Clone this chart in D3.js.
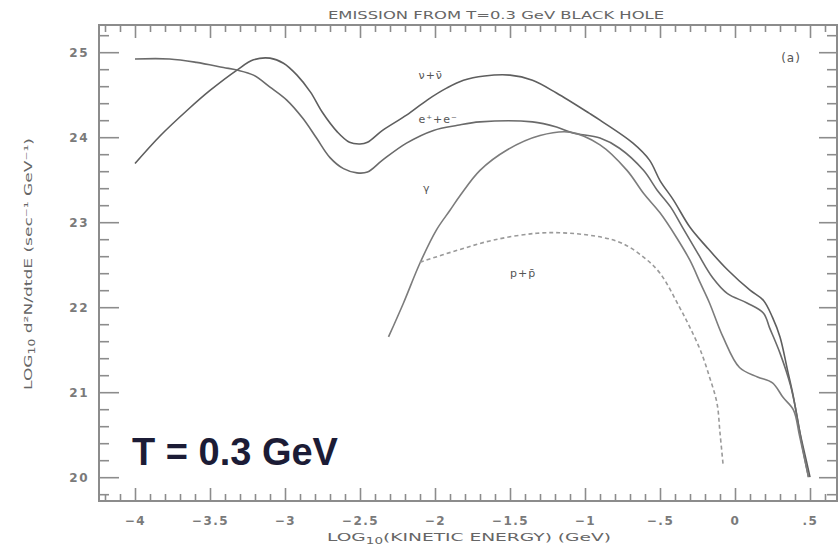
<!DOCTYPE html>
<html>
<head>
<meta charset="utf-8">
<script src="https://cdn.jsdelivr.net/npm/d3@7"></script>
<style>
  body { margin: 0; background: #fff; }
  svg { display: block; }
</style>
</head>
<body>
<svg id="chart" width="838" height="547"></svg>
<script>
// Axis ticks and labels
const energyTicks = [-4, -3.5, -3, -2.5, -2, -1.5, -1, -0.5, 0, 0.5];
const energyTickLabels = ["\u22124", "\u22123.5", "\u22123", "\u22122.5", "\u22122", "\u22121.5", "\u22121", "\u2212.5", "0", ".5"];
const rateTicks = [20, 21, 22, 23, 24, 25];
const rateTickLabels = ["20", "21", "22", "23", "24", "25"];

// Emission spectra: [log10 kinetic energy (GeV), log10 d2N/dtdE]
const neutrinoSpectrum = [
  [-4.00, 23.69], [-3.83, 24.02], [-3.65, 24.32], [-3.50, 24.55], [-3.32, 24.79],
  [-3.21, 24.91], [-3.10, 24.93], [-3.01, 24.87], [-2.92, 24.73], [-2.83, 24.53],
  [-2.75, 24.29], [-2.65, 24.06], [-2.57, 23.94], [-2.50, 23.92], [-2.45, 23.94],
  [-2.35, 24.08], [-2.19, 24.26], [-2.05, 24.44], [-1.92, 24.58], [-1.81, 24.67],
  [-1.67, 24.72], [-1.50, 24.73], [-1.35, 24.67], [-1.19, 24.52], [-0.97, 24.28],
  [-0.90, 24.20], [-0.68, 23.93], [-0.57, 23.73], [-0.50, 23.49], [-0.41, 23.26],
  [-0.30, 22.94], [-0.19, 22.71], [-0.05, 22.44], [0.10, 22.20], [0.19, 22.08],
  [0.25, 21.88], [0.30, 21.65], [0.35, 21.26], [0.39, 20.94], [0.43, 20.55],
  [0.48, 20.16], [0.50, 20.00]
];
const electronSpectrum = [
  [-4.00, 24.92], [-3.77, 24.92], [-3.59, 24.88], [-3.41, 24.82], [-3.32, 24.79],
  [-3.21, 24.73], [-3.10, 24.59], [-2.99, 24.44], [-2.88, 24.22], [-2.79, 23.99],
  [-2.70, 23.76], [-2.61, 23.63], [-2.52, 23.58], [-2.45, 23.59], [-2.35, 23.73],
  [-2.19, 23.93], [-2.01, 24.08], [-1.85, 24.14], [-1.70, 24.18], [-1.35, 24.18],
  [-1.19, 24.12], [-1.08, 24.05], [-0.90, 23.99], [-0.77, 23.87], [-0.61, 23.61],
  [-0.52, 23.38], [-0.43, 23.18], [-0.35, 22.94], [-0.25, 22.64], [-0.15, 22.35],
  [-0.05, 22.16], [0.08, 22.05], [0.19, 21.93], [0.23, 21.76], [0.30, 21.46],
  [0.37, 21.08], [0.41, 20.75], [0.45, 20.35], [0.49, 20.00]
];
const photonSpectrum = [
  [-2.31, 21.65], [-2.21, 22.05], [-2.10, 22.52], [-1.99, 22.91], [-1.90, 23.14],
  [-1.83, 23.32], [-1.70, 23.61], [-1.52, 23.85], [-1.30, 24.02], [-1.10, 24.06],
  [-0.90, 23.91], [-0.72, 23.61], [-0.61, 23.34], [-0.50, 23.11], [-0.39, 22.82],
  [-0.30, 22.55], [-0.23, 22.28], [-0.17, 22.05], [-0.08, 21.65], [0.03, 21.29],
  [0.15, 21.18], [0.25, 21.11], [0.32, 20.94], [0.39, 20.79], [0.43, 20.49],
  [0.49, 20.00]
];
const protonSpectrum = [
  [-2.10, 22.53], [-1.85, 22.67], [-1.61, 22.79], [-1.32, 22.87], [-1.10, 22.87],
  [-0.88, 22.82], [-0.75, 22.75], [-0.61, 22.59], [-0.50, 22.40], [-0.37, 22.00],
  [-0.30, 21.76], [-0.23, 21.49], [-0.17, 21.18], [-0.12, 20.87], [-0.10, 20.52],
  [-0.08, 20.16]
];

// Curve captions: [text, log10 E, log10 rate]
const curveCaptions = [
  ["\u03BD+\u03BD\u0304", -2.11, 24.69],
  ["e\u207A+e\u207B", -2.11, 24.17],
  ["\u03B3", -2.08, 23.35],
  ["p+p\u0304", -1.50, 22.36]
];

const svg = d3.select("#chart");
const frame = { left: 99, right: 837, top: 25, bottom: 501 };

const x = d3.scaleLinear().domain([-4.24, 0.68]).range([frame.left, frame.right]);
const y = d3.scaleLinear().domain([19.72, 25.32]).range([frame.bottom, frame.top]);

const axisColor = "#8c8c8c";
const labelFont = "'DejaVu Sans', sans-serif";

// minor tick positions
const xMinor = d3.range(-4.2, 0.65, 0.1).map(v => +v.toFixed(2)).filter(v => !energyTicks.some(t => Math.abs(t - v) < 1e-6));
const yMinor = d3.range(19.8, 25.3, 0.2).map(v => +v.toFixed(2)).filter(v => !rateTicks.some(t => Math.abs(t - v) < 1e-6));

function styleAxis(g) {
  g.select(".domain").remove();
  g.selectAll(".tick line").attr("stroke", axisColor).attr("stroke-width", 1.6);
  g.selectAll(".tick text")
    .attr("fill", "#7a7a7a")
    .style("font-family", labelFont)
    .style("font-size", "12px")
    .style("font-weight", "bold")
    .style("letter-spacing", "1.5px");
}

// bottom
svg.append("g").attr("transform", `translate(0,${frame.bottom})`)
  .call(d3.axisBottom(x).tickValues(energyTicks).tickSize(-13).tickPadding(15)
    .tickFormat((d, i) => energyTickLabels[i]))
  .call(styleAxis);
svg.append("g").attr("transform", `translate(0,${frame.bottom})`)
  .call(d3.axisBottom(x).tickValues(xMinor).tickSize(-7).tickFormat(""))
  .call(styleAxis);
// top
svg.append("g").attr("transform", `translate(0,${frame.top})`)
  .call(d3.axisTop(x).tickValues(energyTicks).tickSize(-13).tickFormat(""))
  .call(styleAxis);
svg.append("g").attr("transform", `translate(0,${frame.top})`)
  .call(d3.axisTop(x).tickValues(xMinor).tickSize(-7).tickFormat(""))
  .call(styleAxis);
// left
svg.append("g").attr("transform", `translate(${frame.left},0)`)
  .call(d3.axisLeft(y).tickValues(rateTicks).tickSize(-20).tickPadding(10)
    .tickFormat((d, i) => rateTickLabels[i]))
  .call(styleAxis);
svg.append("g").attr("transform", `translate(${frame.left},0)`)
  .call(d3.axisLeft(y).tickValues(yMinor).tickSize(-10).tickFormat(""))
  .call(styleAxis);
// right
svg.append("g").attr("transform", `translate(${frame.right},0)`)
  .call(d3.axisRight(y).tickValues(rateTicks).tickSize(-18).tickFormat(""))
  .call(styleAxis);
svg.append("g").attr("transform", `translate(${frame.right},0)`)
  .call(d3.axisRight(y).tickValues(yMinor).tickSize(-10).tickFormat(""))
  .call(styleAxis);

// plot frame
svg.append("rect")
  .attr("x", frame.left).attr("y", frame.top)
  .attr("width", frame.right - frame.left).attr("height", frame.bottom - frame.top)
  .attr("fill", "none").attr("stroke", axisColor).attr("stroke-width", 2);

// spectra
const line = d3.line().x(d => x(d[0])).y(d => y(d[1])).curve(d3.curveCatmullRom.alpha(0.5));
const curves = svg.append("g").attr("fill", "none");
[
  [neutrinoSpectrum, "#5e5e5e", null],
  [electronSpectrum, "#6a6a6a", null],
  [photonSpectrum, "#7c7c7c", null],
  [protonSpectrum, "#9a9a9a", "4,3"]
].forEach(([data, color, dash]) => {
  curves.append("path")
    .datum(data)
    .attr("d", line)
    .attr("stroke", color)
    .attr("stroke-width", 1.6)
    .attr("stroke-dasharray", dash);
});

// curve captions
svg.append("g").selectAll("text").data(curveCaptions).join("text")
  .attr("x", d => x(d[1])).attr("y", d => y(d[2]))
  .attr("fill", "#555")
  .style("font-family", labelFont)
  .style("font-size", "11px")
  .style("letter-spacing", "1px")
  .text(d => d[0]);

// panel tag
svg.append("text")
  .attr("x", 791).attr("y", 62).attr("text-anchor", "middle")
  .attr("fill", "#555")
  .style("font-family", labelFont).style("font-size", "12px").style("letter-spacing", "1px")
  .text("(a)");

// title
svg.append("text")
  .attr("x", 328).attr("y", 19)
  .attr("textLength", 336).attr("lengthAdjust", "spacingAndGlyphs")
  .attr("fill", "#666")
  .style("font-family", labelFont).style("font-size", "11px")
  .text("EMISSION FROM T=0.3 GeV BLACK HOLE");

// x axis title
const xTitle = svg.append("text")
  .attr("x", 327).attr("y", 541)
  .attr("textLength", 284).attr("lengthAdjust", "spacingAndGlyphs")
  .attr("fill", "#666")
  .style("font-family", labelFont).style("font-size", "11px");
xTitle.append("tspan").text("LOG");
xTitle.append("tspan").attr("dy", 3).style("font-size", "8px").text("10");
xTitle.append("tspan").attr("dy", -3).text("(KINETIC ENERGY) (GeV)");

// y axis title
const yTitle = svg.append("text")
  .attr("transform", "translate(32,390) rotate(-90)")
  .attr("textLength", 252).attr("lengthAdjust", "spacingAndGlyphs")
  .attr("fill", "#666")
  .style("font-family", labelFont).style("font-size", "11px");
yTitle.append("tspan").text("LOG");
yTitle.append("tspan").attr("dy", 3).style("font-size", "8px").text("10");
yTitle.append("tspan").attr("dy", -3).text(" d\u00B2N/dtdE (sec\u207B\u00B9 GeV\u207B\u00B9)");

// temperature annotation
svg.append("text")
  .attr("x", 132).attr("y", 465)
  .attr("fill", "#1c1c36")
  .style("font-family", "'Liberation Sans', Arial, sans-serif")
  .style("font-size", "38px").style("font-weight", "bold")
  .text("T = 0.3 GeV");
</script>
</body>
</html>
